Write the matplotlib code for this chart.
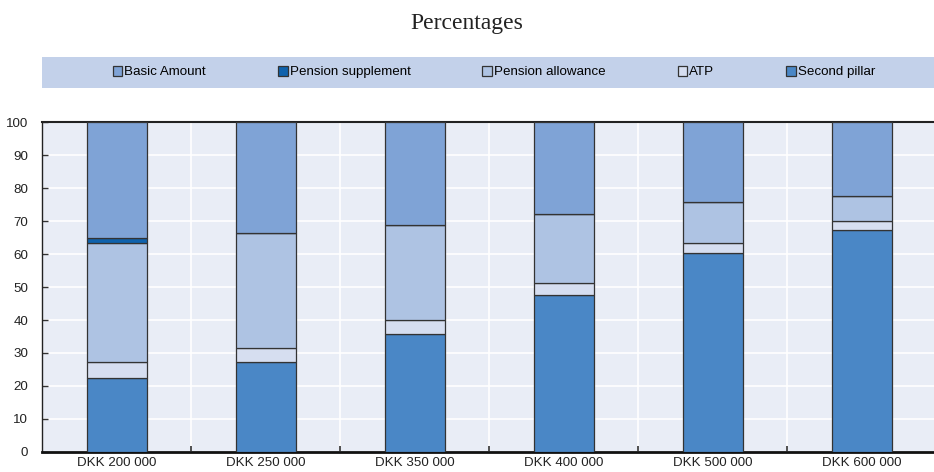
import numpy as np
import matplotlib.pyplot as plt
from matplotlib.patches import Rectangle, Patch

# Dados (percentagens)
categories = ['DKK 200 000', 'DKK 250 000', 'DKK 350 000', 'DKK 400 000', 'DKK 500 000', 'DKK 600 000']
second_pillar = [22.5, 27.1, 35.9, 47.5, 60.3, 67.3]
atp = [4.6, 4.4, 4.0, 3.6, 3.2, 2.9]
pension_allowance = [36.4, 34.9, 29.0, 21.1, 12.4, 7.6]
pension_supplement = [1.5, 0.0, 0.0, 0.0, 0.0, 0.0]
basic_amount = [35.0, 33.6, 31.1, 27.8, 24.1, 22.2]

series = [
    ('Second pillar', second_pillar, '#4a87c6'),
    ('ATP', atp, '#d6def0'),
    ('Pension allowance', pension_allowance, '#aec3e3'),
    ('Pension supplement', pension_supplement, '#0f62ad'),
    ('Basic Amount', basic_amount, '#7fa3d6'),
]

fonte = 'Liberation Sans'

fig = plt.figure(figsize=(9.34, 4.72), dpi=100)
ax = fig.add_axes([0.0455, 0.043, 0.957, 0.6975])
ax.set_facecolor('#e9edf6')

x = np.arange(len(categories))
bottom = np.zeros(len(categories))
for name, vals, col in series:
    vals = np.array(vals)
    ax.bar(x, vals, width=0.4, bottom=bottom, color=col, edgecolor='#333333',
           linewidth=0.9, label=name, zorder=3)
    bottom += vals

ax.set_xlim(-0.5, 5.5)
ax.set_ylim(0, 100)
ax.set_yticks(np.arange(0, 101, 10))
ax.set_xticks(x)
ax.set_xticklabels(categories)
ax.set_xticks(np.arange(0.5, 5.5, 1), minor=True)
ax.tick_params(axis='x', which='major', length=0, pad=4, labelsize=9.6)
ax.tick_params(axis='x', which='minor', length=4, direction='in', width=1.2, color='#333333')
ax.tick_params(axis='y', length=4, direction='in', width=1, color='#333333', labelsize=9.6, pad=10.4)
for lab in ax.get_xticklabels() + ax.get_yticklabels():
    lab.set_fontfamily(fonte)
    lab.set_color('#222222')

ax.grid(axis='y', color='white', linewidth=1.2, zorder=0)
ax.grid(axis='x', which='minor', color='white', linewidth=1.2, zorder=0)
ax.set_axisbelow(True)

ax.spines['right'].set_visible(False)
ax.spines['top'].set_color('#222222')
ax.spines['top'].set_linewidth(1.5)
ax.spines['left'].set_color('#222222')
ax.spines['left'].set_linewidth(1.0)
ax.spines['bottom'].set_color('#111111')
ax.spines['bottom'].set_linewidth(2.0)

# Título
fig.text(0.5, 0.951, 'Percentages', ha='center', va='center', fontsize=17,
         fontfamily='Liberation Serif', color='#222222')

# Faixa da legenda
fig.patches.append(Rectangle((0.0455, 0.814), 0.955, 0.066, transform=fig.transFigure,
                             facecolor='#c3d1ea', edgecolor='none'))
handles = [Patch(facecolor=c, edgecolor='#333333', linewidth=0.9, label=n) for n, v, c in series[::-1]]
leg = fig.legend(handles=handles, loc='center', bbox_to_anchor=(0.529, 0.847), ncol=5,
                 frameon=False, handlelength=0.72, handleheight=0.72, handletextpad=0.15,
                 columnspacing=5.4, prop={'family': fonte, 'size': 9.6})

fig.savefig('out.png', dpi=100)
